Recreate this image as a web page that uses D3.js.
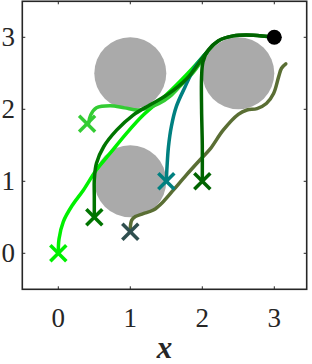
<!DOCTYPE html>
<html>
<head>
<meta charset="utf-8">
<script src="https://cdn.jsdelivr.net/npm/d3@7"></script>
<style>
  body { margin: 0; background: #fff; }
  svg { display: block; }
</style>
</head>
<body>
<svg width="312" height="364"></svg>
<script>
const serif = "Liberation Serif, DejaVu Serif, serif";
const xTicks = [0, 1, 2, 3];
const yTicks = [0, 1, 2, 3];

// obstacles: [cx, cy, r]
const obstacles = [[1, 2.5, 0.5], [2.5, 2.5, 0.5], [1, 1, 0.5]];
const goal = [3, 3];

const pathLime = [[0, 0], [0.01, 0.2], [0.07, 0.44], [0.19, 0.66], [0.35, 0.88], [0.53, 1.16],
  [0.72, 1.39], [0.95, 1.67], [1.18, 1.92], [1.5, 2.2], [1.8, 2.5], [2.07, 2.8]];
const pathLight = [[0.42, 1.8], [0.45, 1.92], [0.53, 2.02], [0.72, 2.05], [0.92, 2.02],
  [1.1, 1.99], [1.25, 2.02], [1.4, 2.08], [1.55, 2.18], [1.7, 2.33], [1.88, 2.52], [2.07, 2.8]];
const pathDark1 = [[0.5, 0.5], [0.5, 0.8], [0.5, 1.02], [0.53, 1.25], [0.63, 1.48], [0.81, 1.71],
  [1.04, 1.92], [1.27, 2.06], [1.51, 2.2], [1.78, 2.42], [2.07, 2.8], [2.22, 2.95], [2.43, 3.02],
  [2.71, 3.03], [3, 3]];
const pathTeal = [[1.5, 1.0], [1.51, 1.2], [1.53, 1.48], [1.57, 1.76], [1.64, 2.04], [1.76, 2.31],
  [1.9, 2.59], [2.07, 2.8]];
const pathDark2 = [[2, 1], [2, 1.5], [1.99, 2.0], [1.99, 2.45], [2.01, 2.66], [2.08, 2.82],
  [2.22, 2.95], [2.43, 3.02], [2.71, 3.03], [3, 3]];
const pathOlive = [[1.0, 0.35], [1.02, 0.46], [1.07, 0.51], [1.18, 0.55], [1.32, 0.6], [1.46, 0.72],
  [1.6, 0.88], [1.78, 1.09], [1.97, 1.3], [2.11, 1.45], [2.29, 1.71], [2.5, 1.93], [2.62, 1.99],
  [2.76, 2.01], [2.89, 2.08], [2.99, 2.22], [3.06, 2.45], [3.1, 2.57], [3.16, 2.63]];

const paths = [
  { pts: pathLime, color: "#00f000", start: [0, 0], marker: "#00f000" },
  { pts: pathLight, color: "#33cc33", start: [0.4, 1.8], marker: "#33cc33" },
  { pts: pathTeal, color: "#008080", start: [1.5, 1.0], marker: "#008080" },
  { pts: pathOlive, color: "#5a6e34", start: [1.0, 0.3], marker: "#2f4f4f" },
  { pts: pathDark1, color: "#007400", start: [0.5, 0.5], marker: "#007400" },
  { pts: pathDark2, color: "#006400", start: [2, 1], marker: "#006400" }
];

const svg = d3.select("svg");
const x = d3.scaleLinear().domain([-0.5, 3.45]).range([22.3, 306.7]);
const y = d3.scaleLinear().domain([-0.5, 3.5]).range([289.3, 1.3]);

svg.append("g")
  .selectAll("circle")
  .data(obstacles)
  .join("circle")
  .attr("cx", d => x(d[0]))
  .attr("cy", d => y(d[1]))
  .attr("r", d => x(d[2]) - x(0))
  .attr("fill", "#aaaaaa");

const line = d3.line().x(d => x(d[0])).y(d => y(d[1])).curve(d3.curveCatmullRom.alpha(0.5));

svg.append("g")
  .selectAll("path")
  .data(paths)
  .join("path")
  .attr("d", d => line(d.pts))
  .attr("fill", "none")
  .attr("stroke", d => d.color)
  .attr("stroke-width", 3.5)
  .attr("stroke-linecap", "round");

const m = 8;
const marks = svg.append("g")
  .selectAll("g")
  .data(paths)
  .join("g")
  .attr("transform", d => `translate(${x(d.start[0])},${y(d.start[1])})`)
  .attr("stroke", d => d.marker)
  .attr("stroke-width", 3.5);
marks.append("line").attr("x1", -m).attr("y1", -m).attr("x2", m).attr("y2", m);
marks.append("line").attr("x1", -m).attr("y1", m).attr("x2", m).attr("y2", -m);

svg.append("circle")
  .attr("cx", x(goal[0]))
  .attr("cy", y(goal[1]))
  .attr("r", 7.5)
  .attr("fill", "#000");

// frame and inner ticks on all sides
const x0 = x.range()[0], x1 = x.range()[1], y0 = y.range()[0], y1 = y.range()[1];
const frame = svg.append("g").attr("stroke", "#262626").attr("fill", "none");
frame.append("rect")
  .attr("x", x0).attr("y", y1)
  .attr("width", x1 - x0).attr("height", y0 - y1)
  .attr("stroke-width", 1.6);
const tl = 3;
xTicks.forEach(t => {
  frame.append("line").attr("x1", x(t)).attr("x2", x(t)).attr("y1", y0).attr("y2", y0 - tl);
  frame.append("line").attr("x1", x(t)).attr("x2", x(t)).attr("y1", y1).attr("y2", y1 + tl);
});
yTicks.forEach(t => {
  frame.append("line").attr("y1", y(t)).attr("y2", y(t)).attr("x1", x0).attr("x2", x0 + tl);
  frame.append("line").attr("y1", y(t)).attr("y2", y(t)).attr("x1", x1).attr("x2", x1 - tl);
});

svg.append("g")
  .selectAll("text")
  .data(xTicks)
  .join("text")
  .attr("font-family", serif)
  .attr("font-size", 27)
  .attr("fill", "#262626")
  .attr("x", d => x(d))
  .attr("y", 327)
  .attr("text-anchor", "middle")
  .text(d => d);

svg.append("g")
  .selectAll("text")
  .data(yTicks)
  .join("text")
  .attr("font-family", serif)
  .attr("font-size", 27)
  .attr("fill", "#262626")
  .attr("x", 15)
  .attr("y", d => y(d) + 9)
  .attr("text-anchor", "end")
  .text(d => d);

svg.append("text")
  .attr("font-family", serif)
  .attr("font-size", 31)
  .attr("font-style", "italic")
  .attr("font-weight", "bold")
  .attr("fill", "#262626")
  .attr("x", (x0 + x1) / 2)
  .attr("y", 358)
  .attr("text-anchor", "middle")
  .text("x");
</script>
</body>
</html>
